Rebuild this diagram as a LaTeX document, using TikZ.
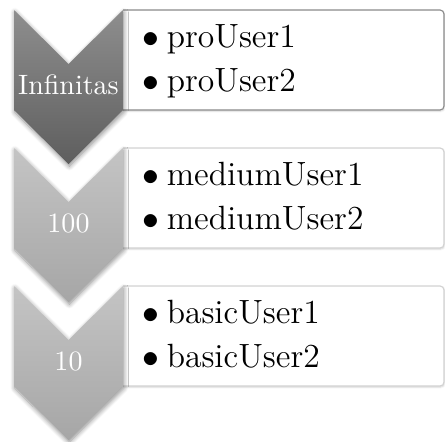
\documentclass[tikz,border=0pt]{standalone}
\usetikzlibrary{shadows.blur}
\definecolor{darkTop}{HTML}{8E8E8E}
\definecolor{darkBot}{HTML}{5E5E5E}
\definecolor{darkEdge}{HTML}{8A8A8A}
\definecolor{lightTop}{HTML}{C4C4C4}
\definecolor{lightBot}{HTML}{A6A6A6}
\definecolor{lightEdge}{HTML}{D2D2D2}
\begin{document}
\begin{tikzpicture}[x=0.357pt,y=-0.357pt,
  chevron/.style={top color=#1Top, bottom color=#1Bot, draw=none,
    blur shadow={shadow xshift=0.3pt, shadow yshift=-0.8pt,
      shadow blur radius=1.6pt, shadow blur steps=8, shadow opacity=45}},
  listbox/.style={fill=white, draw=#1Edge, line width=0.4pt, rounded corners=1.4pt,
    blur shadow={shadow xshift=0.2pt, shadow yshift=-0.4pt,
      shadow blur radius=0.6pt, shadow blur steps=5, shadow opacity=18}},
  steplabel/.style={text=white, font=\normalsize, inner sep=0pt},
  entry/.style={text=black, font=\large, inner sep=0pt, anchor=base west}
]
\useasboundingbox (0,0) rectangle (445,441);
\foreach \y/\tone/\lab/\ta/\tb/\n in {
    10/dark/Infinitas/proUser1/proUser2/1,
    148/light/100/mediumUser1/mediumUser2/2,
    286/light/10/basicUser1/basicUser2/3}{
  % list box, open on the side of the chevron
  \path[listbox=\tone] (123,\y) -- (444,\y) -- (444,\y+100) -- (123,\y+100);
  % chevron
  \path[chevron=\tone] (14,\y) -- (68.5,\y+54) -- (123,\y) -- (123,\y+100)
    -- (68.5,\y+154) -- (14,\y+100) -- cycle;
  \node[steplabel, anchor=base] (lab\n) at (68.5,\y+84) {\lab};
  \node[entry] (ea\n) at (142,\y+37) {$\bullet$\hspace{0.22em}\ta};
  \node[entry] (eb\n) at (142,\y+81) {$\bullet$\hspace{0.22em}\tb};
}
\end{tikzpicture}
\end{document}
